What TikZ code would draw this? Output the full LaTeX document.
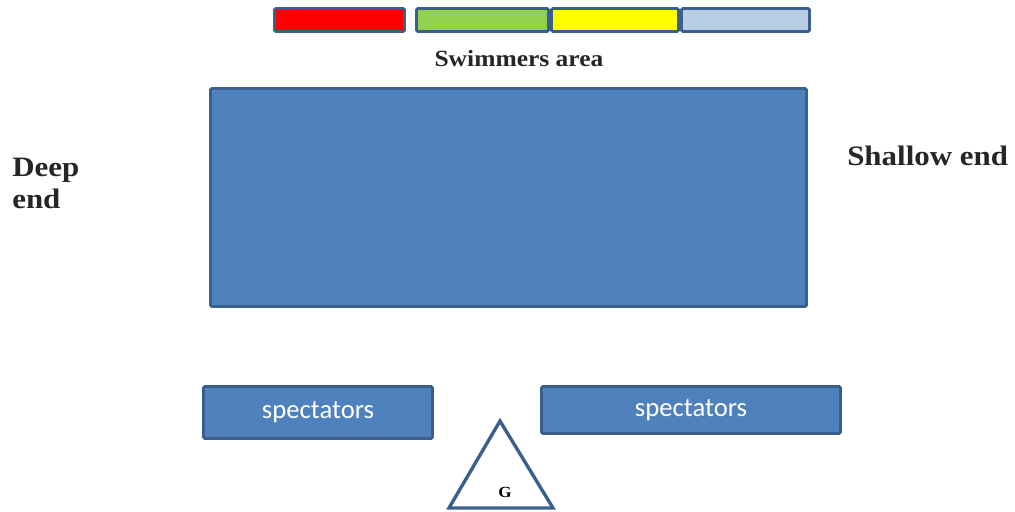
\documentclass[tikz,border=0pt]{standalone}
\usepackage{fontspec}
\setmainfont{Liberation Serif}
\newfontfamily\labelfont[FakeStretch=1.1]{Liberation Serif}
\newfontfamily\specfont{Carlito}
\definecolor{poolblue}{HTML}{4F81BD}
\definecolor{edgeblue}{HTML}{3A5F8D}
\definecolor{laneRed}{HTML}{FF0000}
\definecolor{laneGreen}{HTML}{92D050}
\definecolor{laneYellow}{HTML}{FFFF00}
\definecolor{laneLight}{HTML}{B9CDE5}
\begin{document}
\begin{tikzpicture}[x=0.025cm, y=-0.025cm,
  lane/.style={rectangle, draw=edgeblue, line width=2pt, rounded corners=1pt,
               minimum height=0.575cm, inner sep=0pt},
  area/.style={rectangle, draw=edgeblue, fill=poolblue, line width=2pt,
               rounded corners=1pt, inner sep=0pt},
  label/.style={font=\labelfont\bfseries\fontsize{20}{22.7}\selectfont, text=black!85, inner sep=0pt},
  crowd/.style={area, font=\specfont\fontsize{19}{22}\selectfont, text=white}
]
  \useasboundingbox (0,0) rectangle (1015,512);

  % lanes across the top
  \node[lane, fill=laneRed, minimum width=3.25cm] (L1) at (339.5,20) {};
  \node[lane, fill=laneGreen, minimum width=3.3cm] (L2) at (482.5,20) {};
  \node[lane, fill=laneYellow, minimum width=3.175cm] (L3) at (615,20) {};
  \node[lane, fill=laneLight, minimum width=3.2cm] (L4) at (745.5,20) {};
  \node[label, font=\labelfont\bfseries\fontsize{16.5}{19}\selectfont, anchor=base] (swim) at (519,67) {Swimmers area};

  % pool
  \node[area, minimum width=14.9cm, minimum height=5.45cm] (pool) at (508.5,197.5) {};
  \node[label, anchor=base west, align=left] (deep) at (12,208) {Deep\\end};
  \node[label, anchor=base west] (shallow) at (847,166) {Shallow end};

  % stands
  \node[crowd, minimum width=5.725cm, minimum height=1.3cm] (specL) at (318,412.5) {spectators};
  \node[crowd, minimum width=7.475cm, minimum height=1.175cm] (specR) at (691,410) {spectators};

  % guard
  \coordinate (gtop) at (500,421);
  \coordinate (gleft) at (449,508);
  \coordinate (gright) at (553,508);
  \draw[edgeblue, line width=2.4pt, line join=miter] (gtop) -- (gleft) -- (gright) -- cycle;
  \node[font=\labelfont\bfseries\fontsize{11}{13}\selectfont, inner sep=0pt] (G) at (505,492) {G};
\end{tikzpicture}
\end{document}
